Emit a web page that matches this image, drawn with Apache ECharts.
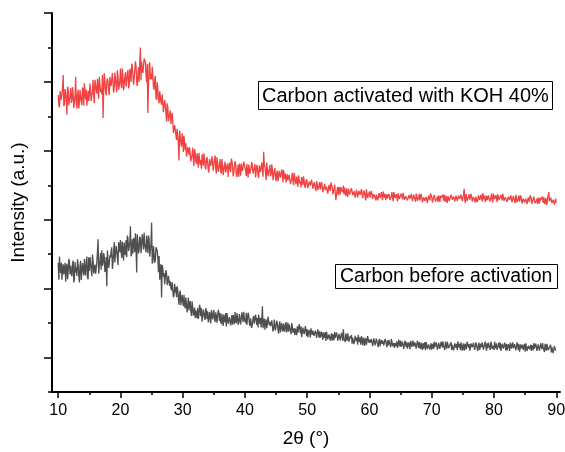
<!DOCTYPE html>
<html>
<head>
<meta charset="utf-8">
<script src="https://cdn.jsdelivr.net/npm/echarts@6.0.0/dist/echarts.min.js"></script>
<style>html,body{margin:0;padding:0;background:#fff}#main{width:565px;height:452px}</style>
</head>
<body>
<div id="main"></div>
<script>
// 2-theta sampling positions (degrees), 0.1 degree step
const twoTheta = [
10,10.1,10.2,10.3,10.4,10.5,10.6,10.7,10.8,10.9,
11,11.1,11.2,11.3,11.4,11.5,11.6,11.7,11.8,11.9,
12,12.1,12.2,12.3,12.4,12.5,12.6,12.7,12.8,12.9,
13,13.1,13.2,13.3,13.4,13.5,13.6,13.7,13.8,13.9,
14,14.1,14.2,14.3,14.4,14.5,14.6,14.7,14.8,14.9,
15,15.1,15.2,15.3,15.4,15.5,15.6,15.7,15.8,15.9,
16,16.1,16.2,16.3,16.4,16.5,16.6,16.7,16.8,16.9,
17,17.1,17.2,17.3,17.4,17.5,17.6,17.7,17.8,17.9,
18,18.1,18.2,18.3,18.4,18.5,18.6,18.7,18.8,18.9,
19,19.1,19.2,19.3,19.4,19.5,19.6,19.7,19.8,19.9,
20,20.1,20.2,20.3,20.4,20.5,20.6,20.7,20.8,20.9,
21,21.1,21.2,21.3,21.4,21.5,21.6,21.7,21.8,21.9,
22,22.1,22.2,22.3,22.4,22.5,22.6,22.7,22.8,22.9,
23,23.1,23.2,23.3,23.4,23.5,23.6,23.7,23.8,23.9,
24,24.1,24.2,24.3,24.4,24.5,24.6,24.7,24.8,24.9,
25,25.1,25.2,25.3,25.4,25.5,25.6,25.7,25.8,25.9,
26,26.1,26.2,26.3,26.4,26.5,26.6,26.7,26.8,26.9,
27,27.1,27.2,27.3,27.4,27.5,27.6,27.7,27.8,27.9,
28,28.1,28.2,28.3,28.4,28.5,28.6,28.7,28.8,28.9,
29,29.1,29.2,29.3,29.4,29.5,29.6,29.7,29.8,29.9,
30,30.1,30.2,30.3,30.4,30.5,30.6,30.7,30.8,30.9,
31,31.1,31.2,31.3,31.4,31.5,31.6,31.7,31.8,31.9,
32,32.1,32.2,32.3,32.4,32.5,32.6,32.7,32.8,32.9,
33,33.1,33.2,33.3,33.4,33.5,33.6,33.7,33.8,33.9,
34,34.1,34.2,34.3,34.4,34.5,34.6,34.7,34.8,34.9,
35,35.1,35.2,35.3,35.4,35.5,35.6,35.7,35.8,35.9,
36,36.1,36.2,36.3,36.4,36.5,36.6,36.7,36.8,36.9,
37,37.1,37.2,37.3,37.4,37.5,37.6,37.7,37.8,37.9,
38,38.1,38.2,38.3,38.4,38.5,38.6,38.7,38.8,38.9,
39,39.1,39.2,39.3,39.4,39.5,39.6,39.7,39.8,39.9,
40,40.1,40.2,40.3,40.4,40.5,40.6,40.7,40.8,40.9,
41,41.1,41.2,41.3,41.4,41.5,41.6,41.7,41.8,41.9,
42,42.1,42.2,42.3,42.4,42.5,42.6,42.7,42.8,42.9,
43,43.1,43.2,43.3,43.4,43.5,43.6,43.7,43.8,43.9,
44,44.1,44.2,44.3,44.4,44.5,44.6,44.7,44.8,44.9,
45,45.1,45.2,45.3,45.4,45.5,45.6,45.7,45.8,45.9,
46,46.1,46.2,46.3,46.4,46.5,46.6,46.7,46.8,46.9,
47,47.1,47.2,47.3,47.4,47.5,47.6,47.7,47.8,47.9,
48,48.1,48.2,48.3,48.4,48.5,48.6,48.7,48.8,48.9,
49,49.1,49.2,49.3,49.4,49.5,49.6,49.7,49.8,49.9,
50,50.1,50.2,50.3,50.4,50.5,50.6,50.7,50.8,50.9,
51,51.1,51.2,51.3,51.4,51.5,51.6,51.7,51.8,51.9,
52,52.1,52.2,52.3,52.4,52.5,52.6,52.7,52.8,52.9,
53,53.1,53.2,53.3,53.4,53.5,53.6,53.7,53.8,53.9,
54,54.1,54.2,54.3,54.4,54.5,54.6,54.7,54.8,54.9,
55,55.1,55.2,55.3,55.4,55.5,55.6,55.7,55.8,55.9,
56,56.1,56.2,56.3,56.4,56.5,56.6,56.7,56.8,56.9,
57,57.1,57.2,57.3,57.4,57.5,57.6,57.7,57.8,57.9,
58,58.1,58.2,58.3,58.4,58.5,58.6,58.7,58.8,58.9,
59,59.1,59.2,59.3,59.4,59.5,59.6,59.7,59.8,59.9,
60,60.1,60.2,60.3,60.4,60.5,60.6,60.7,60.8,60.9,
61,61.1,61.2,61.3,61.4,61.5,61.6,61.7,61.8,61.9,
62,62.1,62.2,62.3,62.4,62.5,62.6,62.7,62.8,62.9,
63,63.1,63.2,63.3,63.4,63.5,63.6,63.7,63.8,63.9,
64,64.1,64.2,64.3,64.4,64.5,64.6,64.7,64.8,64.9,
65,65.1,65.2,65.3,65.4,65.5,65.6,65.7,65.8,65.9,
66,66.1,66.2,66.3,66.4,66.5,66.6,66.7,66.8,66.9,
67,67.1,67.2,67.3,67.4,67.5,67.6,67.7,67.8,67.9,
68,68.1,68.2,68.3,68.4,68.5,68.6,68.7,68.8,68.9,
69,69.1,69.2,69.3,69.4,69.5,69.6,69.7,69.8,69.9,
70,70.1,70.2,70.3,70.4,70.5,70.6,70.7,70.8,70.9,
71,71.1,71.2,71.3,71.4,71.5,71.6,71.7,71.8,71.9,
72,72.1,72.2,72.3,72.4,72.5,72.6,72.7,72.8,72.9,
73,73.1,73.2,73.3,73.4,73.5,73.6,73.7,73.8,73.9,
74,74.1,74.2,74.3,74.4,74.5,74.6,74.7,74.8,74.9,
75,75.1,75.2,75.3,75.4,75.5,75.6,75.7,75.8,75.9,
76,76.1,76.2,76.3,76.4,76.5,76.6,76.7,76.8,76.9,
77,77.1,77.2,77.3,77.4,77.5,77.6,77.7,77.8,77.9,
78,78.1,78.2,78.3,78.4,78.5,78.6,78.7,78.8,78.9,
79,79.1,79.2,79.3,79.4,79.5,79.6,79.7,79.8,79.9,
80,80.1,80.2,80.3,80.4,80.5,80.6,80.7,80.8,80.9,
81,81.1,81.2,81.3,81.4,81.5,81.6,81.7,81.8,81.9,
82,82.1,82.2,82.3,82.4,82.5,82.6,82.7,82.8,82.9,
83,83.1,83.2,83.3,83.4,83.5,83.6,83.7,83.8,83.9,
84,84.1,84.2,84.3,84.4,84.5,84.6,84.7,84.8,84.9,
85,85.1,85.2,85.3,85.4,85.5,85.6,85.7,85.8,85.9,
86,86.1,86.2,86.3,86.4,86.5,86.6,86.7,86.8,86.9,
87,87.1,87.2,87.3,87.4,87.5,87.6,87.7,87.8,87.9,
88,88.1,88.2,88.3,88.4,88.5,88.6,88.7,88.8,88.9,
89,89.1,89.2,89.3,89.4,89.5,89.6,89.7,89.8,89.9,
90
];

// Carbon activated with KOH 40% (offset intensity, a.u.), one line per degree
const activatedKOH = [
8.62,8.33,8.26,8.73,8.77,8.48,8.44,8.84,9.20,8.30,
8.36,8.79,8.68,8.43,8.05,8.86,8.79,8.32,8.50,8.58,
8.82,8.39,8.46,8.85,8.64,8.24,8.28,8.60,9.15,8.35,
8.23,8.66,8.77,8.23,8.41,8.77,8.59,8.41,8.33,8.84,
8.78,8.31,8.96,8.67,8.49,8.78,8.31,8.28,8.74,8.45,
8.64,8.95,8.99,8.45,8.49,8.76,9.06,8.61,8.38,9.06,
9.08,8.77,8.66,9.08,8.85,8.51,9.15,9.12,8.70,8.81,
8.64,9.21,7.95,8.76,9.25,9.02,8.72,8.61,8.99,9.10,
9.00,8.73,8.62,9.15,9.15,8.88,8.92,9.26,9.23,8.69,
8.85,9.27,9.30,8.89,8.70,9.34,9.15,8.77,8.89,9.04,
9.39,8.90,8.82,9.39,9.13,8.75,8.71,9.13,9.28,8.86,
9.04,9.26,9.34,8.81,8.88,9.38,9.26,9.00,9.53,9.45,
9.43,8.92,9.09,9.34,9.60,9.47,9.01,8.88,9.22,9.43,
9.00,9.59,10.00,9.05,9.59,9.38,9.26,9.21,9.68,9.72,
9.57,9.20,8.99,9.53,8.10,8.90,9.49,9.57,9.07,9.24,
9.08,9.44,9.43,8.85,8.77,9.08,9.17,8.54,8.48,8.99,
8.78,8.49,8.38,8.73,8.71,8.42,8.34,8.64,8.63,8.12,
8.15,8.47,8.34,8.10,7.85,8.38,8.29,7.86,7.97,8.00,
8.17,7.78,7.80,8.10,7.88,7.52,7.51,7.75,7.80,7.47,
7.31,7.64,7.69,7.21,6.72,7.59,7.40,7.22,7.12,7.51,
7.36,6.97,7.44,7.19,7.02,7.22,6.83,6.78,7.11,7.09,
6.89,7.10,7.11,6.69,6.70,6.89,7.09,6.75,6.56,7.05,
6.95,6.70,6.62,6.93,6.74,6.51,6.94,6.96,6.59,6.73,
6.48,6.90,6.76,6.57,6.93,6.76,6.54,6.46,6.74,6.82,
6.65,6.45,6.37,6.76,6.76,6.56,6.59,6.84,6.82,6.42,
6.45,6.76,6.86,6.48,6.34,6.81,6.67,6.39,6.48,6.59,
6.76,6.40,6.34,6.76,6.57,6.29,6.26,6.57,6.68,6.37,
6.41,6.57,6.63,6.24,6.29,6.66,6.57,6.38,6.77,6.71,
6.59,6.26,6.37,6.53,6.70,6.62,6.32,6.24,6.45,6.59,
6.25,6.63,6.50,6.28,6.63,6.50,6.42,6.39,6.69,6.71,
6.65,6.41,6.27,6.62,6.41,6.22,6.60,6.65,6.33,6.43,
6.42,6.67,6.69,6.34,6.32,6.53,6.61,6.23,6.23,6.59,
6.49,6.28,6.22,6.58,6.60,6.39,6.36,6.66,6.68,6.25,
6.97,6.61,6.53,6.34,6.15,6.66,6.61,6.26,6.39,6.45,
6.59,6.26,6.32,6.61,6.45,6.15,6.18,6.42,6.50,6.23,
6.12,6.36,6.42,6.12,6.22,6.42,6.32,6.22,6.18,6.46,
6.34,6.08,6.44,6.28,6.18,6.34,6.08,6.06,6.32,6.14,
6.14,6.30,6.32,6.04,6.06,6.20,6.36,6.12,6.00,6.36,
6.25,6.09,6.03,6.25,6.13,5.95,6.29,6.27,6.05,6.11,
5.94,6.24,6.14,6.00,6.26,6.14,5.98,5.92,6.12,6.18,
6.04,5.92,5.87,6.11,6.11,5.99,6.00,6.16,6.14,5.90,
5.90,6.09,6.11,5.92,5.83,6.12,6.04,5.87,5.92,5.99,
6.09,5.87,5.84,6.09,5.97,5.80,5.79,5.97,6.04,5.86,
5.86,5.96,6.00,5.76,5.79,6.01,5.96,5.84,6.08,6.05,
5.95,5.74,5.81,5.91,6.02,5.97,5.57,5.73,5.86,5.95,
5.71,5.95,5.87,5.73,5.95,5.87,5.82,5.80,5.99,5.74,
5.93,5.78,5.69,5.91,5.78,5.66,5.90,5.93,5.73,5.79,
5.76,5.92,5.93,5.71,5.70,5.83,5.88,5.64,5.64,5.87,
5.78,5.65,5.61,5.84,5.85,5.72,5.70,5.89,5.90,5.63,
5.65,5.85,5.80,5.68,5.56,5.88,5.85,5.63,5.71,5.75,
5.82,5.65,5.68,5.84,5.75,5.60,5.61,5.74,5.78,5.64,
5.56,5.73,5.77,5.56,5.63,5.77,5.70,5.63,5.61,5.80,
5.75,5.57,5.82,5.71,5.64,5.75,5.57,5.55,5.74,5.62,
5.64,5.75,5.77,5.57,5.59,5.68,5.80,5.63,5.54,5.80,
5.74,5.63,5.59,5.74,5.66,5.53,5.77,5.76,5.60,5.65,
5.55,5.76,5.69,5.59,5.78,5.69,5.58,5.54,5.68,5.72,
5.65,5.56,5.51,5.71,5.71,5.61,5.63,5.75,5.74,5.54,
5.57,5.73,5.74,5.59,5.52,5.76,5.69,5.55,5.59,5.64,
5.75,5.56,5.54,5.75,5.65,5.51,5.49,5.65,5.70,5.55,
5.58,5.66,5.69,5.49,5.52,5.70,5.66,5.56,5.76,5.73,
5.67,5.50,5.55,5.64,5.72,5.68,5.53,5.48,5.60,5.67,
5.51,5.70,5.63,5.52,5.70,5.63,5.59,5.58,5.73,5.55,
5.72,5.59,5.52,5.70,5.59,5.49,5.69,5.72,5.55,5.61,
5.62,5.73,5.76,5.58,5.56,5.67,5.71,5.53,5.52,5.70,
5.66,5.55,5.52,5.70,5.71,5.60,5.59,5.73,5.76,5.54,
5.56,5.72,5.90,5.59,5.49,5.75,5.73,5.55,5.62,5.64,
5.74,5.58,5.60,5.75,5.67,5.53,5.53,5.66,5.70,5.56,
5.50,5.67,5.71,5.51,5.57,5.71,5.64,5.58,5.55,5.73,
5.70,5.53,5.77,5.66,5.59,5.70,5.52,5.51,5.69,5.56,
5.60,5.71,5.73,5.53,5.55,5.64,5.76,5.59,5.50,5.76,
5.71,5.60,5.56,5.71,5.63,5.51,5.74,5.72,5.57,5.62,
5.52,5.72,5.66,5.56,5.75,5.66,5.55,5.51,5.65,5.69,
5.61,5.52,5.47,5.67,5.67,5.57,5.59,5.71,5.70,5.50,
5.53,5.69,5.70,5.55,5.48,5.72,5.65,5.51,5.55,5.60,
5.71,5.52,5.50,5.71,5.61,5.47,5.45,5.61,5.66,5.51,
5.53,5.61,5.64,5.45,5.47,5.65,5.61,5.51,5.71,5.67,
5.62,5.46,5.50,5.59,5.67,5.63,5.48,5.44,5.55,5.61,
5.45,5.64,5.57,5.47,5.64,5.57,5.53,5.52,5.67,5.49,
5.65,5.52,5.45,5.63,5.52,5.43,5.62,5.64,5.80,5.54,
5.53,5.64,5.67,5.49,5.47,5.58,5.62,5.44,5.43,5.61,
5.50
];

// Carbon before activation (offset intensity, a.u.), one line per degree
const beforeActivation = [
3.75,3.26,3.93,3.63,3.45,3.75,3.26,3.58,3.71,3.41,
3.57,3.75,3.20,3.62,3.72,3.27,3.49,3.86,3.79,3.42,
3.66,3.44,3.36,3.73,3.81,3.18,3.29,3.77,3.47,3.62,
3.37,3.85,3.70,3.40,3.18,3.66,3.81,3.25,3.51,3.74,
3.53,3.38,3.86,3.53,3.38,3.79,3.93,3.34,3.27,3.90,
3.51,3.92,3.96,3.55,3.36,3.99,3.81,3.44,3.55,3.70,
3.43,3.58,3.77,4.06,4.43,3.43,3.66,3.80,4.03,3.55,
4.11,3.66,3.74,4.03,3.92,3.48,3.55,3.92,3.07,4.11,
4.12,3.60,3.72,3.97,3.90,4.09,4.20,3.57,3.75,4.05,
4.35,3.76,3.80,4.24,4.09,3.91,3.69,4.35,4.24,4.06,
4.41,4.08,3.89,4.37,4.08,3.82,4.34,4.11,3.97,4.41,
3.91,4.54,4.46,4.09,4.09,4.35,4.81,3.94,4.02,4.43,
4.02,4.47,4.39,4.06,4.61,4.21,3.47,4.58,4.35,4.02,
4.14,4.51,4.44,4.03,3.99,4.58,4.36,4.14,4.62,4.29,
4.17,4.06,4.54,4.28,4.03,4.54,4.43,3.93,3.91,4.30,
4.91,3.73,3.80,4.24,4.24,3.75,3.82,4.20,4.17,4.10,
3.89,3.48,3.95,3.26,3.53,3.71,2.74,3.68,3.59,3.35,
3.45,3.13,3.11,3.54,3.43,3.11,3.19,3.37,3.35,3.08,
3.21,3.02,2.95,3.19,3.23,2.75,2.81,3.14,2.89,3.04,
2.75,3.07,2.95,2.72,2.53,2.86,2.94,2.52,2.68,2.82,
2.62,2.49,2.82,2.52,2.43,2.74,2.79,2.31,2.27,2.74,
2.37,2.58,2.64,2.34,2.21,2.63,2.48,2.22,2.28,2.45,
2.15,2.37,2.33,2.14,2.44,2.12,2.23,2.53,2.45,2.20,
2.43,2.04,2.20,2.39,2.32,2.16,2.09,2.43,2.37,2.12,
2.34,2.02,2.09,2.32,2.20,1.99,2.38,2.25,2.11,2.29,
2.38,2.10,2.03,2.31,2.22,2.01,1.96,2.38,2.31,2.06,
2.29,2.04,1.97,2.27,2.08,1.92,2.25,2.11,2.02,2.29,
1.90,2.29,2.25,1.98,2.02,2.18,2.13,1.93,1.97,2.23,
1.95,2.23,2.18,1.97,2.32,2.06,2.00,2.29,2.16,1.95,
2.03,2.26,2.22,1.96,1.94,2.31,2.17,2.03,2.33,2.12,
2.07,2.00,2.30,1.95,1.97,2.30,2.23,2.00,1.91,2.14,
2.12,1.86,1.89,2.14,2.21,1.98,2.00,2.25,2.28,1.95,
2.15,1.87,2.25,2.08,1.98,2.15,1.87,2.12,2.49,1.85,
2.02,2.13,1.81,2.02,2.11,1.85,1.98,2.19,2.15,1.94,
2.03,1.91,1.87,2.08,2.12,1.76,1.82,2.10,1.93,1.79,
1.80,2.07,1.98,1.82,1.69,1.96,2.05,1.73,1.88,2.00,
1.82,1.75,1.99,1.82,1.75,1.96,2.03,1.73,1.69,2.01,
1.75,1.96,1.98,1.77,1.68,2.00,1.91,1.72,1.77,1.85,
1.65,1.84,1.82,1.65,1.91,1.72,1.76,1.97,1.95,1.70,
1.91,1.59,1.72,1.87,1.82,1.68,1.63,1.91,1.86,1.62,
1.82,1.59,1.64,1.80,1.72,1.58,1.85,1.75,1.66,1.78,
1.82,1.63,1.58,1.78,1.71,1.57,1.54,1.82,1.78,1.58,
1.76,1.58,1.54,1.75,1.62,1.51,1.73,1.63,1.57,1.74,
1.48,1.75,1.72,1.53,1.56,1.67,1.64,1.49,1.52,1.70,
1.49,1.68,1.65,1.50,1.74,1.57,1.52,1.73,1.63,1.49,
1.53,1.69,1.66,1.50,1.47,1.72,1.63,1.48,1.82,1.55,
1.54,1.45,1.70,1.59,1.48,1.70,1.66,1.46,1.43,1.62,
1.56,1.66,1.40,1.58,1.63,1.39,1.48,1.63,1.67,1.47,
1.58,1.37,1.66,1.53,1.45,1.58,1.37,1.62,1.56,1.36,
1.50,1.58,1.34,1.50,1.56,1.37,1.46,1.62,1.59,1.43,
1.52,1.43,1.40,1.54,1.57,1.33,1.38,1.56,1.45,1.35,
1.37,1.55,1.50,1.38,1.30,1.48,1.54,1.33,1.43,1.51,
1.40,1.50,1.53,1.35,1.35,1.54,1.56,1.40,1.30,1.50,
1.35,1.51,1.52,1.37,1.30,1.54,1.47,1.33,1.37,1.42,
1.28,1.42,1.40,1.33,1.47,1.28,1.36,1.52,1.50,1.32,
1.49,1.32,1.35,1.46,1.42,1.25,1.28,1.49,1.45,1.30,
1.45,1.26,1.30,1.44,1.37,1.24,1.48,1.40,1.31,1.43,
1.49,1.32,1.28,1.44,1.39,1.26,1.23,1.49,1.44,1.27,
1.45,1.32,1.25,1.43,1.32,1.22,1.42,1.26,1.28,1.45,
1.21,1.45,1.42,1.25,1.28,1.38,1.35,1.23,1.26,1.41,
1.23,1.40,1.37,1.25,1.46,1.30,1.26,1.44,1.36,1.23,
1.29,1.43,1.40,1.25,1.23,1.46,1.37,1.29,1.47,1.34,
1.32,1.22,1.46,1.36,1.26,1.46,1.41,1.27,1.22,1.36,
1.36,1.44,1.22,1.37,1.41,1.21,1.29,1.41,1.46,1.28,
1.40,1.22,1.47,1.36,1.29,1.40,1.22,1.44,1.39,1.20,
1.34,1.41,1.20,1.34,1.40,1.23,1.32,1.46,1.43,1.29,
1.39,1.20,1.27,1.41,1.44,1.30,1.25,1.43,1.32,1.22,
1.26,1.44,1.39,1.27,1.19,1.37,1.43,1.22,1.32,1.40,
1.30,1.44,1.43,1.23,1.25,1.40,1.46,1.30,1.20,1.41,
1.27,1.43,1.44,1.29,1.22,1.46,1.39,1.25,1.29,1.34,
1.22,1.46,1.34,1.27,1.41,1.22,1.30,1.36,1.44,1.26,
1.43,1.19,1.29,1.40,1.36,1.26,1.22,1.43,1.39,1.21,
1.40,1.21,1.25,1.39,1.32,1.19,1.43,1.35,1.26,1.38,
1.44,1.27,1.23,1.39,1.34,1.21,1.18,1.44,1.39,1.22,
1.40,1.17,1.20,1.38,1.27,1.29,1.37,1.22,1.23,1.40,
1.17,1.41,1.38,1.19,1.24,1.34,1.31,1.24,1.22,1.37,
1.19,1.36,1.33,1.21,1.42,1.26,1.22,1.40,1.32,1.19,
1.24,1.38,1.35,1.20,1.18,1.41,1.32,1.24,1.42,1.29,
1.26,1.16,1.40,1.30,1.20,1.40,1.35,1.21,1.16,1.30,
1.29,1.37,1.15,1.30,1.34,1.13,1.22,1.34,1.39,1.20,
1.20
];

const xMajorTicks = [10, 20, 30, 40, 50, 60, 70, 80, 90];
const xMinorTicks = [15, 25, 35, 45, 55, 65, 75, 85];
const yMajorTicks = [1, 3, 5, 7, 9, 11];
const yMinorTicks = [0, 2, 4, 6, 8, 10];
const labelKOH = 'Carbon activated with KOH 40%';
const labelBefore = 'Carbon before activation';

const FONT = "'Liberation Sans', Arial, sans-serif";
const chart = echarts.init(document.getElementById('main'), null, { renderer: 'canvas' });

const option = {
  animation: false,
  backgroundColor: '#fff',
  textStyle: { fontFamily: FONT },
  title: [
    {
      text: labelKOH, left: 258, top: 81,
      borderColor: '#000', borderWidth: 1, backgroundColor: '#fff', padding: [5, 4, 4, 4],
      textStyle: { fontSize: 20, fontWeight: 'normal', color: '#000', fontFamily: FONT }
    },
    {
      text: labelBefore, left: 335, top: 264,
      borderColor: '#000', borderWidth: 1, backgroundColor: '#fff', padding: [3, 5, 2, 5],
      textStyle: { fontSize: 19.5, fontWeight: 'normal', color: '#000', fontFamily: FONT }
    }
  ],
  grid: { left: 52, right: 5, top: 13, bottom: 60, containLabel: false, outerBoundsMode: 'none' },
  xAxis: [
    {
      type: 'value', min: 9, max: 90.6, position: 'bottom',
      name: '2θ (°)', nameLocation: 'middle', nameGap: 37,
      nameTextStyle: { fontSize: 19, color: '#000', fontFamily: FONT },
      splitLine: { show: false },
      axisLine: { onZero: false, lineStyle: { color: '#000', width: 2 } },
      axisTick: { customValues: xMajorTicks, length: 6, lineStyle: { color: '#000', width: 1.5 } },
      axisLabel: { customValues: xMajorTicks, fontSize: 16, color: '#000', margin: 11, fontFamily: FONT }
    },
    {
      type: 'value', min: 9, max: 90.6, position: 'bottom',
      splitLine: { show: false },
      axisLine: { show: false, onZero: false },
      axisTick: { customValues: xMinorTicks, length: 3, lineStyle: { color: '#000', width: 1.5 } },
      axisLabel: { show: false }
    }
  ],
  yAxis: [
    {
      type: 'value', min: 0, max: 11, position: 'left',
      name: 'Intensity (a.u.)', nameLocation: 'middle', nameGap: 24,
      nameTextStyle: { fontSize: 19, color: '#000', fontFamily: FONT },
      splitLine: { show: false },
      axisLine: { onZero: false, lineStyle: { color: '#000', width: 2 } },
      axisTick: { customValues: yMajorTicks, length: 8, lineStyle: { color: '#000', width: 1.5 } },
      axisLabel: { show: false }
    },
    {
      type: 'value', min: 0, max: 11, position: 'left',
      splitLine: { show: false },
      axisLine: { show: false, onZero: false },
      axisTick: { customValues: yMinorTicks, length: 4, lineStyle: { color: '#000', width: 1.5 } },
      axisLabel: { show: false }
    }
  ],
  series: [
    {
      name: labelBefore, type: 'line', xAxisIndex: 0, yAxisIndex: 0,
      showSymbol: false, symbol: 'none', sampling: null,
      lineStyle: { color: '#4F4F4F', width: 1.3 },
      data: twoTheta.map((x, i) => [x, beforeActivation[i]])
    },
    {
      name: labelKOH, type: 'line', xAxisIndex: 0, yAxisIndex: 0,
      showSymbol: false, symbol: 'none', sampling: null,
      lineStyle: { color: '#F04242', width: 1.3 },
      data: twoTheta.map((x, i) => [x, activatedKOH[i]])
    }
  ]
};
chart.setOption(option);
</script>
</body>
</html>
